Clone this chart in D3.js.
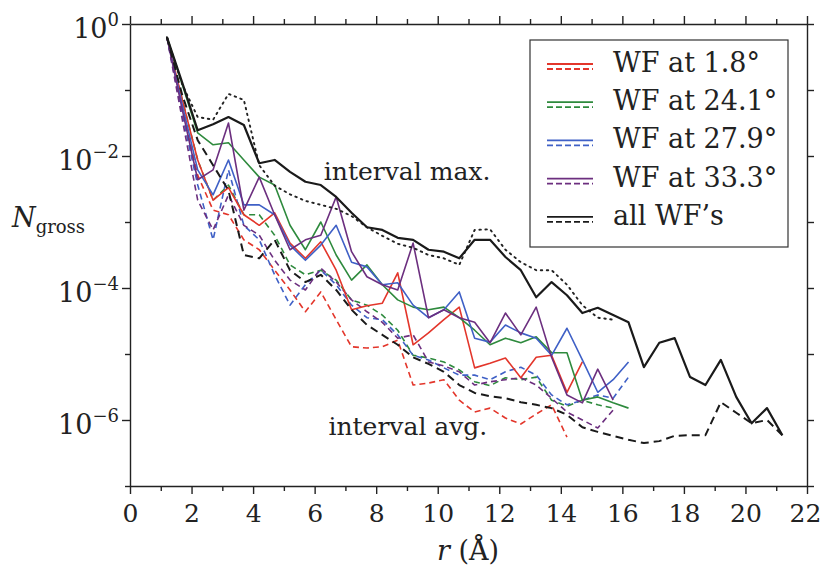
<!DOCTYPE html>
<html>
<head>
<meta charset="utf-8">
<script src="https://cdn.jsdelivr.net/npm/d3@7"></script>
<style>
body { margin: 0; background: #fff; }
svg text { font-family: "DejaVu Serif", serif !important; fill: #222; }
.axis path, .axis line { stroke: #222; stroke-width: 1.4; }
.series { fill: none; stroke-linejoin: round; }
</style>
</head>
<body>
<svg id="chart" width="822" height="571"></svg>
<script>
// radial distance grid (Angstrom), 0.5 A steps
var rGrid = [1.2, 1.7, 2.2, 2.7, 3.2, 3.7, 4.2, 4.7, 5.2, 5.7, 6.2, 6.7, 7.2, 7.7, 8.2, 8.7,
    9.2, 9.7, 10.2, 10.7, 11.2, 11.7, 12.2, 12.7, 13.2, 13.7, 14.2, 14.7, 15.2, 15.7, 16.2,
    16.7, 17.2, 17.7, 18.2, 18.7, 19.2, 19.7, 20.2, 20.7, 21.2];

// all values are log10(N_gross)
var allMax = [-0.20, -0.89, -1.61, -1.52, -1.41, -1.53, -2.11, -2.06, -2.24, -2.39, -2.44, -2.62,
    -2.86, -3.08, -3.12, -3.24, -3.27, -3.42, -3.45, -3.55, -3.27, -3.27, -3.53, -3.73, -4.14,
    -3.91, -4.11, -4.38, -4.30, -4.41, -4.52, -5.20, -4.83, -4.76, -5.35, -5.47, -5.09, -5.65,
    -6.05, -5.82, -6.23];
var allAvg = [-0.20, -1.08, -1.76, -2.14, -2.52, -3.50, -3.55, -3.27, -3.73, -3.91, -3.80, -4.03,
    -4.33, -4.56, -4.71, -4.86, -5.05, -5.15, -5.27, -5.47, -5.59, -5.64, -5.67, -5.73, -5.77,
    -5.82, -5.92, -6.11, -6.18, -6.24, -6.30, -6.35, -6.32, -6.24, -6.23, -6.23, -5.73, -5.89,
    -6.05, -6.00, -6.23];
var envelopeMax = [-0.20, -0.92, -1.41, -1.45, -1.06, -1.15, -2.14, -2.45, -2.58, -2.68, -2.74,
    -2.80, -2.91, -3.08, -3.21, -3.33, -3.39, -3.50, -3.55, -3.65, -3.12, -3.11, -3.42, -3.61,
    -3.73, -3.73, -3.95, -4.26, -4.45, -4.48];

var redMax = [-0.20, -1.15, -2.06, -2.67, -2.48, -2.89, -3.05, -2.86, -3.32, -3.55, -3.30, -3.73,
    -4.33, -4.27, -4.23, -3.77, -4.86, -4.68, -4.48, -4.29, -5.21, -5.14, -5.06, -5.36, -5.05,
    -5.02, -5.58, -5.12];
var redAvg = [-0.20, -1.30, -2.29, -2.82, -2.89, -3.27, -3.42, -3.73, -4.03, -4.36, -4.06, -4.48,
    -4.89, -4.91, -4.89, -4.79, -5.47, -5.44, -5.39, -5.70, -5.88, -5.82, -5.97, -6.06, -5.91,
    -5.77, -6.26];
var greenMax = [-0.20, -0.92, -1.65, -1.83, -1.80, -2.06, -2.32, -2.44, -3.05, -3.42, -3.00, -3.50,
    -3.88, -3.65, -3.95, -4.18, -4.29, -4.33, -4.29, -4.45, -4.64, -4.86, -4.76, -4.83, -4.74,
    -4.98, -4.98, -5.70, -5.65, -5.74, -5.82];
var greenAvg = [-0.20, -1.15, -2.06, -2.67, -2.44, -2.89, -2.89, -3.20, -3.65, -3.80, -3.73, -3.88,
    -4.18, -4.26, -4.41, -4.64, -5.02, -5.06, -5.12, -5.24, -5.42, -5.48, -5.36, -5.39, -5.35,
    -5.70, -5.79, -5.70, -5.77, -5.82];
var blueMax = [-0.20, -1.23, -2.21, -2.59, -2.06, -2.74, -2.74, -2.89, -3.35, -3.58, -3.35, -3.05,
    -3.61, -3.68, -3.95, -3.92, -4.26, -4.45, -4.33, -4.06, -4.76, -4.82, -4.56, -4.68, -4.76,
    -5.02, -4.61, -5.09, -5.58, -5.39, -5.12];
var blueAvg = [-0.20, -1.38, -2.44, -3.27, -2.21, -3.05, -3.27, -3.80, -4.26, -3.95, -3.73, -3.95,
    -4.26, -4.45, -4.48, -4.71, -5.02, -5.09, -5.21, -5.32, -5.32, -5.39, -5.27, -5.20, -5.32,
    -5.62, -5.77, -5.70, -5.62, -5.67, -5.35];
var purpleMax = [-0.20, -1.30, -2.36, -2.21, -1.50, -2.82, -2.32, -2.89, -3.42, -3.27, -3.20, -2.62,
    -3.45, -3.83, -3.95, -4.03, -3.32, -4.45, -4.33, -4.45, -4.52, -4.83, -4.38, -4.71, -4.29,
    -5.05, -5.62, -5.74, -5.23, -5.70];
var purpleAvg = [-0.20, -1.45, -2.67, -3.12, -2.59, -3.05, -3.20, -3.58, -3.88, -4.03, -3.70, -3.91,
    -4.18, -4.36, -4.52, -4.76, -4.71, -5.12, -5.18, -5.27, -5.47, -5.42, -5.39, -5.36, -5.47,
    -5.67, -5.88, -6.00, -6.12, -5.85];

var legendLabels = ['WF at 1.8°', 'WF at 24.1°', 'WF at 27.9°', 'WF at 33.3°', 'all WF\u2019s'];
var legendColors = ['#e3362b', '#2e8a3d', '#3f60c6', '#6c2f7f', '#1a1a1a'];

var xMajor = [0, 2, 4, 6, 8, 10, 12, 14, 16, 18, 20, 22];
var xMinor = [1, 3, 5, 7, 9, 11, 13, 15, 17, 19, 21];
var yMajorExp = [0, -2, -4, -6];
var yMinorExp = [-1, -3, -5, -7];

var svg = d3.select('#chart');

var x = d3.scaleLinear().domain([0, 22]).range([130, 807]);
var y = d3.scaleLog().domain([1e-7, 1]).range([486, 24]);

function pow10(e) { return Math.pow(10, e); }

// axes: major + minor ticks, all pointing outward
function addAxis(gen, tr, vals, size, keepDomain) {
    var g = svg.append('g')
        .attr('class', 'axis')
        .attr('transform', tr)
        .call(gen.tickValues(vals).tickSize(size).tickSizeOuter(0).tickFormat(''));
    if (!keepDomain) g.select('.domain').remove();
    return g;
}

var bottom = addAxis(d3.axisBottom(x), 'translate(0,486)', xMajor, 8, true);
addAxis(d3.axisBottom(x), 'translate(0,486)', xMinor, 5, false);
addAxis(d3.axisTop(x), 'translate(0,24)', xMajor, 8, true);
addAxis(d3.axisTop(x), 'translate(0,24)', xMinor, 5, false);
var left = addAxis(d3.axisLeft(y), 'translate(130,0)', yMajorExp.map(pow10), 8, true);
addAxis(d3.axisLeft(y), 'translate(130,0)', yMinorExp.map(pow10), 5, false);
addAxis(d3.axisRight(y), 'translate(807,0)', yMajorExp.map(pow10), 7, true);
addAxis(d3.axisRight(y), 'translate(807,0)', yMinorExp.map(pow10), 7, false);

bottom.selectAll('.tick').append('text')
    .attr('y', 36)
    .attr('x', function(d) { return d === 22 ? -2 : 0; })
    .attr('text-anchor', 'middle')
    .style('font-size', '25px')
    .text(function(d) { return d; });

var yLabels = left.selectAll('.tick').append('text')
    .attr('x', -11)
    .attr('y', 13)
    .attr('text-anchor', 'end')
    .style('font-size', '27px');
yLabels.append('tspan').text('10');
yLabels.append('tspan')
    .attr('dy', -12)
    .style('font-size', '18px')
    .text(function(d) {
        var e = Math.round(Math.log10(d));
        return e < 0 ? '\u2212' + (-e) : String(e);
    });

// axis titles
var yTitle = svg.append('text').attr('x', 12).attr('y', 227).style('font-size', '27px');
yTitle.append('tspan').style('font-style', 'italic').text('N');
yTitle.append('tspan').attr('dy', 6).style('font-size', '18px').text('gross');

var xTitle = svg.append('text').attr('x', 468).attr('y', 560)
    .attr('text-anchor', 'middle').style('font-size', '27px');
xTitle.append('tspan').style('font-style', 'italic').text('r');
xTitle.append('tspan').text(' (Å)');

// series
var line = d3.line()
    .x(function(d) { return x(d[0]); })
    .y(function(d) { return y(pow10(d[1])); });

function pairs(vals) {
    return vals.map(function(v, i) { return [rGrid[i], v]; });
}

var seriesList = [
    {vals: redAvg, colour: legendColors[0], dash: '6,4', w: 1.6},
    {vals: greenAvg, colour: legendColors[1], dash: '6,4', w: 1.6},
    {vals: blueAvg, colour: legendColors[2], dash: '6,4', w: 1.6},
    {vals: purpleAvg, colour: legendColors[3], dash: '6,4', w: 1.6},
    {vals: redMax, colour: legendColors[0], dash: null, w: 1.6},
    {vals: greenMax, colour: legendColors[1], dash: null, w: 1.6},
    {vals: blueMax, colour: legendColors[2], dash: null, w: 1.6},
    {vals: purpleMax, colour: legendColors[3], dash: null, w: 1.6},
    {vals: envelopeMax, colour: '#222', dash: '1.5,4.5', w: 1.9, cap: 'round'},
    {vals: allAvg, colour: legendColors[4], dash: '8,5', w: 2.0},
    {vals: allMax, colour: legendColors[4], dash: null, w: 2.2}
];

svg.append('g')
    .selectAll('path')
    .data(seriesList)
    .enter()
    .append('path')
    .attr('class', 'series')
    .attr('d', function(s) { return line(pairs(s.vals)); })
    .attr('stroke', function(s) { return s.colour; })
    .attr('stroke-width', function(s) { return s.w; })
    .attr('stroke-linecap', function(s) { return s.cap || 'butt'; })
    .attr('stroke-dasharray', function(s) { return s.dash; });

// annotations
svg.append('text')
    .attr('x', x(6.3)).attr('y', y(pow10(-2.36)))
    .style('font-size', '25px')
    .text('interval max.');
svg.append('text')
    .attr('x', x(6.45)).attr('y', y(pow10(-6.23)))
    .style('font-size', '25px')
    .text('interval avg.');

// legend
svg.append('rect')
    .attr('x', 530).attr('y', 40).attr('width', 258).attr('height', 207)
    .attr('fill', '#fff').attr('stroke', '#333').attr('stroke-width', 1.2);

var legend = svg.append('g')
    .selectAll('g')
    .data(legendLabels)
    .enter()
    .append('g')
    .attr('transform', function(d, i) { return 'translate(547,' + (72 + i * 38.2) + ')'; });

legend.append('line')
    .attr('x1', 0).attr('x2', 46).attr('y1', -8).attr('y2', -8)
    .attr('stroke', function(d, i) { return legendColors[i]; })
    .attr('stroke-width', 1.8);
legend.append('line')
    .attr('x1', 0).attr('x2', 46).attr('y1', -3).attr('y2', -3)
    .attr('stroke', function(d, i) { return legendColors[i]; })
    .attr('stroke-width', 1.8)
    .attr('stroke-dasharray', '6,3');
legend.append('text')
    .attr('x', 66).attr('y', 0)
    .style('font-size', '27px')
    .text(function(d) { return d; });
</script>
</body>
</html>
